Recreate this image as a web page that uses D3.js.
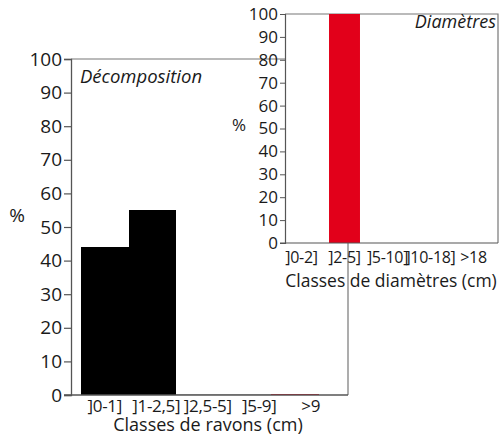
<!DOCTYPE html>
<html><head><meta charset="utf-8">
<script src="https://cdn.jsdelivr.net/npm/d3@7"></script>
<style>html,body{margin:0;padding:0;background:#fff}svg{display:block}</style>
</head><body>
<svg id="c" width="504" height="436"></svg>
<script>
// ---- data ----
const radiusClasses = ["]0-1]", "]1-2,5]", "]2,5-5]", "]5-9]", ">9"];
const decompositionPct = [44, 55, 0.4, 0.4, 0.4];
const diameterClasses = ["]0-2]", "]2-5]", "]5-10]", "]10-18]", ">18"];
const diameterPct = [0, 100, 0, 0, 0];
const yTicks = [0, 10, 20, 30, 40, 50, 60, 70, 80, 90, 100];

// ---- style ----
const FONT = "'Open Sans', sans-serif";
const RED = "#e2001a";
const INK = "#1a1a1a";
const leftColors = ["#000", "#000", "#bbb", "#bbb", RED];

const svg = d3.select("#c");

// ===== left chart =====
const L = {x0: 71, x1: 348, y0: 395, y1: 59};
const yL = d3.scaleLinear().domain([0, 100]).range([L.y0, L.y1]);
const xL = d3.scaleBand().domain(radiusClasses).range([81, 81 + 5 * 47.5]).padding(0);
const xLlab = d3.scaleBand().domain(radiusClasses).range([79, 79 + 5 * 51.5]).padding(0);

const gL = svg.append("g");
gL.append("path").attr("d", `M${L.x0},${L.y1}H${L.x1}V${L.y0}`)
  .attr("fill", "none").attr("stroke", "#777").attr("stroke-width", 1.2);
gL.selectAll("rect.bar").data(decompositionPct).join("rect")
  .attr("x", (d, i) => Math.round(xL(radiusClasses[i])))
  .attr("width", (d, i) => Math.round(xL(radiusClasses[i]) + xL.bandwidth()) - Math.round(xL(radiusClasses[i])))
  .attr("y", d => yL(d))
  .attr("height", d => yL(0) - yL(d))
  .attr("fill", (d, i) => leftColors[i])
  .attr("shape-rendering", "crispEdges");
const ayL = gL.append("g").attr("transform", `translate(${L.x0},0)`)
  .call(d3.axisLeft(yL).tickValues(yTicks).tickSize(7).tickPadding(2));
ayL.select(".domain").attr("stroke", "#555").attr("stroke-width", 1.3);
ayL.selectAll(".tick line").attr("stroke", "#555").attr("stroke-width", 1.2);
ayL.selectAll(".tick text").attr("font-family", FONT).attr("font-size", 19).attr("fill", INK);
const axL = gL.append("g").attr("transform", `translate(0,${L.y0})`)
  .call(d3.axisBottom(xLlab).tickSize(0).tickPadding(5));
axL.select(".domain").attr("d", `M${L.x0 - 7},0H${L.x1}`).attr("stroke", "#555").attr("stroke-width", 1.3);
axL.selectAll(".tick text").attr("font-family", FONT).attr("font-size", 17).attr("letter-spacing", -0.3).attr("fill", INK);
gL.append("text").attr("x", 208).attr("y", 431).attr("text-anchor", "middle")
  .attr("font-family", FONT).attr("font-size", 18).attr("fill", INK).text("Classes de ravons (cm)");
gL.append("text").attr("x", 17).attr("y", 222).attr("text-anchor", "middle")
  .attr("font-family", FONT).attr("font-size", 19).attr("fill", INK).text("%");
gL.append("text").attr("x", 80).attr("y", 83)
  .attr("font-family", FONT).attr("font-size", 18.5).attr("font-style", "italic").attr("fill", INK).text("Décomposition");

// ===== right chart =====
const R = {x0: 285, x1: 498, y0: 243, y1: 14};
const yR = d3.scaleLinear().domain([0, 100]).range([R.y0, R.y1]);
const xR = d3.scaleBand().domain(diameterClasses).range([280, 495]).paddingInner(0.28).paddingOuter(0.14);
const xRlab = d3.scaleBand().domain(diameterClasses).range([280, 495]).padding(0);

const gR = svg.append("g");
gR.append("rect").attr("x", R.x0).attr("y", R.y1).attr("width", R.x1 - R.x0).attr("height", R.y0 - R.y1).attr("fill", "#fff");
gR.append("path").attr("d", `M${R.x0},${R.y1}H${R.x1}V${R.y0}`)
  .attr("fill", "none").attr("stroke", "#777").attr("stroke-width", 1.2);
gR.selectAll("rect.bar").data(diameterPct).join("rect")
  .attr("x", (d, i) => xR(diameterClasses[i]))
  .attr("width", xR.bandwidth())
  .attr("y", d => yR(d))
  .attr("height", d => yR(0) - yR(d))
  .attr("fill", RED);
const ayR = gR.append("g").attr("transform", `translate(${R.x0},0)`)
  .call(d3.axisLeft(yR).tickValues(yTicks).tickSize(5).tickPadding(2));
ayR.select(".domain").attr("stroke", "#555").attr("stroke-width", 1.2);
ayR.selectAll(".tick line").attr("stroke", "#555");
ayR.selectAll(".tick text").attr("font-family", FONT).attr("font-size", 17).attr("fill", INK);
const axR = gR.append("g").attr("transform", `translate(0,${R.y0})`)
  .call(d3.axisBottom(xRlab).tickSize(0).tickPadding(9));
axR.select(".domain").attr("d", `M${R.x0 - 5},0H${R.x1}`).attr("stroke", "#555").attr("stroke-width", 1.2);
axR.selectAll(".tick text").attr("font-family", FONT).attr("font-size", 16).attr("letter-spacing", -0.3).attr("fill", INK);
gR.append("text").attr("x", 391).attr("y", 287).attr("text-anchor", "middle")
  .attr("font-family", FONT).attr("font-size", 17.5).attr("fill", INK).text("Classes de diamètres (cm)");
gR.append("text").attr("x", 239).attr("y", 131).attr("text-anchor", "middle")
  .attr("font-family", FONT).attr("font-size", 17).attr("fill", INK).text("%");
gR.append("text").attr("x", 496).attr("y", 28).attr("text-anchor", "end")
  .attr("font-family", FONT).attr("font-size", 18).attr("font-style", "italic").attr("fill", INK).text("Diamètres");
</script>
</body></html>
